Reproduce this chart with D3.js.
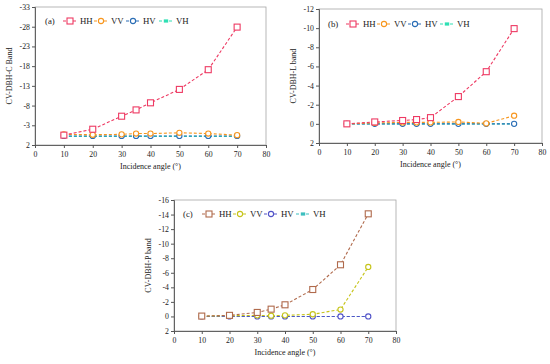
<!DOCTYPE html>
<html>
<head>
<meta charset="utf-8">
<title>CV-DBH panels</title>
<script src="https://d3js.org/d3.v7.min.js"></script>
<style>
  body { margin: 0; background: #fff; }
  svg text { font-family: "Liberation Serif", "DejaVu Serif", serif; fill: #222; }
</style>
</head>
<body>
<div id="chart"></div>
<script>
// incidence angles shared by all panels
var angles = [10, 20, 30, 35, 40, 50, 60, 70];
var series = ["HH", "VV", "HV", "VH"];
var xTicks = [0, 10, 20, 30, 40, 50, 60, 70, 80];

// panel (a) C band
var cHH = [-0.5, -2.0, -5.3, -6.9, -8.7, -12.1, -17.1, -27.9];
var cVV = [-0.7, -0.6, -0.7, -0.9, -0.9, -1.1, -0.9, -0.5];
var cHV = [-0.3, -0.3, -0.3, -0.3, -0.3, -0.3, -0.3, -0.3];
var cVH = [-0.2, -0.2, -0.2, -0.2, -0.2, -0.2, -0.2, -0.2];
var cTicks = [2, -3, -8, -13, -18, -23, -28, -33];

// panel (b) L band
var lHH = [0.0, -0.2, -0.35, -0.45, -0.65, -2.85, -5.45, -9.95];
var lVV = [0.0, -0.1, -0.15, -0.15, -0.15, -0.2, -0.05, -0.85];
var lHV = [0.0, 0.0, 0.0, 0.0, 0.0, 0.0, 0.0, 0.0];
var lVH = [0.0, 0.0, 0.0, 0.0, 0.0, 0.0, 0.0, 0.0];
var lTicks = [2, 0, -2, -4, -6, -8, -10, -12];

// panel (c) P band
var pHH = [-0.05, -0.15, -0.55, -1.0, -1.6, -3.7, -7.1, -14.1];
var pVV = [-0.05, -0.1, -0.15, -0.1, -0.15, -0.3, -0.95, -6.8];
var pHV = [0.0, 0.0, 0.0, 0.0, 0.0, 0.0, 0.0, 0.0];
var pVH = [0.0, 0.0, 0.0, 0.0, 0.0, 0.0, 0.0, 0.0];
var pTicks = [2, 0, -2, -4, -6, -8, -10, -12, -14, -16];

var svg = d3.select("#chart").append("svg")
    .attr("width", 550)
    .attr("height", 364);

var markers = { HH: "square", VV: "circle", HV: "circle", VH: "dash" };

function drawMarker(g, type, x, y, color) {
    if (type == "square") {
        g.append("rect").attr("x", x - 3).attr("y", y - 3).attr("width", 6).attr("height", 6)
            .attr("fill", "#fff").attr("stroke", color).attr("stroke-width", 1.1);
    } else if (type == "circle") {
        g.append("circle").attr("cx", x).attr("cy", y).attr("r", 2.6)
            .attr("fill", "#fff").attr("stroke", color).attr("stroke-width", 1.1);
    } else {
        g.append("rect").attr("x", x - 2.2).attr("y", y - 1.6).attr("width", 4.4).attr("height", 3.2)
            .attr("fill", color);
    }
}

function panel(opt) {
    var x = d3.scaleLinear().domain([0, 80]).range([opt.left, opt.right]);
    var y = d3.scaleLinear().domain([opt.ticks[0], opt.ticks[opt.ticks.length - 1]])
        .range([opt.bottom, opt.top]);
    var g = svg.append("g");

    // frame
    g.append("rect")
        .attr("x", opt.left).attr("y", opt.top)
        .attr("width", opt.right - opt.left).attr("height", opt.bottom - opt.top)
        .attr("fill", "none").attr("stroke", "#a6a6a6").attr("stroke-width", 0.8);

    var xa = g.append("g")
        .attr("transform", "translate(0," + opt.bottom + ")")
        .call(d3.axisBottom(x).tickValues(xTicks).tickSize(3).tickPadding(3).tickFormat(d3.format("d")));
    var ya = g.append("g")
        .attr("transform", "translate(" + opt.left + ",0)")
        .call(d3.axisLeft(y).tickValues(opt.ticks).tickSize(3).tickPadding(2).tickFormat(d => d < 0 ? "-" + Math.abs(d) : d));
    [xa, ya].forEach(function(a) {
        a.select(".domain").attr("stroke", "#555").attr("stroke-width", 0.9);
        a.selectAll(".tick line").attr("stroke", "#555");
        a.selectAll("text").style("font-size", "7.8px").attr("fill", "#222");
    });

    g.append("text")
        .attr("x", (opt.left + opt.right) / 2)
        .attr("y", opt.bottom + 24)
        .attr("text-anchor", "middle")
        .style("font-size", "8px")
        .text("Incidence angle (°)");
    g.append("text")
        .attr("transform", "translate(" + (opt.left - 23) + "," + ((opt.top + opt.bottom) / 2) + ") rotate(-90)")
        .attr("text-anchor", "middle")
        .style("font-size", "8px")
        .text(opt.ylabel);

    var line = d3.line().x((d, i) => x(angles[i])).y(d => y(d));
    // draw back to front so HH ends on top
    for (var k = series.length - 1; k >= 0; k--) {
        var s = series[k];
        var vals = opt.data[k];
        var col = opt.colors[k];
        g.append("path").datum(vals)
            .attr("d", line)
            .attr("fill", "none")
            .attr("stroke", col)
            .attr("stroke-width", 1.1)
            .attr("stroke-dasharray", "3,2");
        var mg = g.append("g");
        vals.forEach(function(v, i) {
            drawMarker(mg, markers[s], x(angles[i]), y(v), col);
        });
    }

    // legend
    g.append("text")
        .attr("x", opt.legX).attr("y", opt.legY + 3)
        .style("font-size", "8.8px")
        .text(opt.label);
    series.forEach(function(s, k) {
        var mx = opt.legM[k];
        var col = opt.colors[k];
        g.append("line")
            .attr("x1", mx - 7).attr("x2", mx + 7)
            .attr("y1", opt.legY).attr("y2", opt.legY)
            .attr("stroke", col).attr("stroke-width", 1.1).attr("stroke-dasharray", "3,2");
        drawMarker(g, markers[s], mx, opt.legY, col);
        g.append("text")
            .attr("x", mx + 10).attr("y", opt.legY + 3)
            .style("font-size", "8.8px")
            .text(s);
    });
}

var colorsLC = ["#ee3a63", "#f7961e", "#2a6db5", "#2ee0b4"];
var colorsP = ["#b06a4c", "#c6c41a", "#5152c8", "#3cbfbf"];

panel({
    left: 35, right: 266, top: 7, bottom: 145,
    ticks: cTicks, ylabel: "CV-DBH-C Band", label: "(a)",
    data: [cHH, cVV, cHV, cVH], colors: colorsLC,
    legX: 45, legY: 21, legM: [70, 101, 133, 166]
});
panel({
    left: 319, right: 542, top: 9, bottom: 143,
    ticks: lTicks, ylabel: "CV-DBH-L band", label: "(b)",
    data: [lHH, lVV, lHV, lVH], colors: colorsLC,
    legX: 328, legY: 24, legM: [353, 384, 415, 447]
});
panel({
    left: 174, right: 396, top: 200, bottom: 331,
    ticks: pTicks, ylabel: "CV-DBH-P band", label: "(c)",
    data: [pHH, pVV, pHV, pVH], colors: colorsP,
    legX: 183, legY: 214, legM: [209, 240, 271, 303]
});
</script>
</body>
</html>
